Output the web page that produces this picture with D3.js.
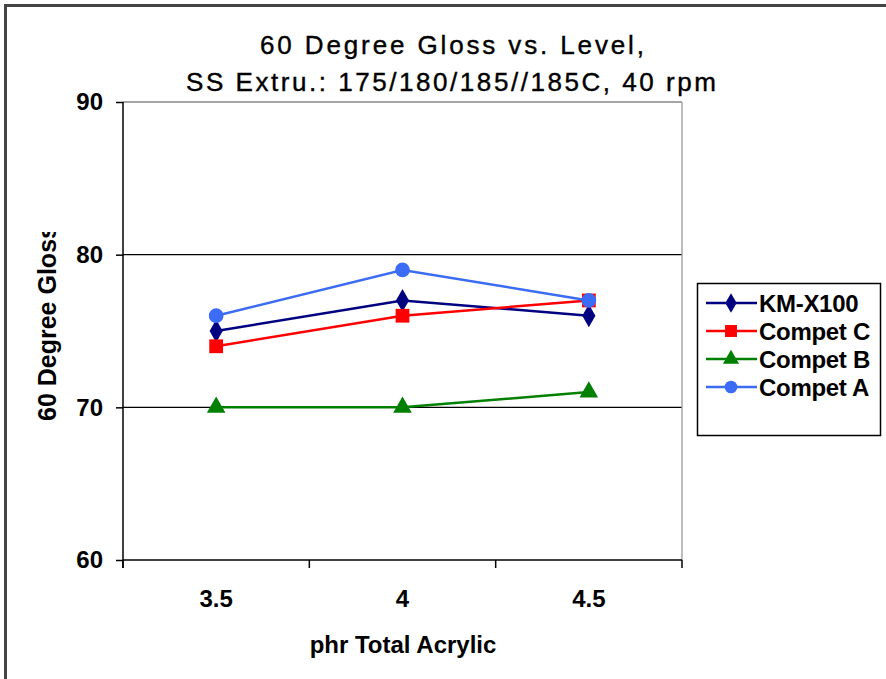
<!DOCTYPE html>
<html>
<head>
<meta charset="utf-8">
<script src="https://cdn.jsdelivr.net/npm/d3@7"></script>
<style>
html,body{margin:0;padding:0;background:#fff;}
svg{display:block;}
text{font-family:"Liberation Sans",Arial,sans-serif;fill:#000;}
</style>
</head>
<body>
<svg id="chart" width="886" height="679"></svg>
<script>
const categories = ["3.5", "4", "4.5"];
const seriesNames = ["KM-X100", "Compet C", "Compet B", "Compet A"];
const kmX100 = [75, 77, 76];
const competC = [74, 76, 77];
const competB = [70, 70, 71];
const competA = [76, 79, 77];
const yTicks = [60, 70, 80, 90];
const titleLines = ["60 Degree Gloss vs. Level,", "SS Extru.: 175/180/185//185C, 40 rpm"];
const xTitle = "phr Total Acrylic";
const yTitle = "60 Degree Gloss";

const series = [
  {name: seriesNames[0], values: kmX100, color: "#000080", shape: d3.symbolDiamond},
  {name: seriesNames[1], values: competC, color: "#FF0000", shape: d3.symbolSquare},
  {name: seriesNames[2], values: competB, color: "#008000", shape: d3.symbolTriangle},
  {name: seriesNames[3], values: competA, color: "#3C6CF5", shape: d3.symbolCircle}
];
const markerSize = {"KM-X100": 150, "Compet C": 190, "Compet B": 150, "Compet A": 170};

const svg = d3.select("#chart");
const margin = {left: 123, right: 682, top: 102, bottom: 560};

// outer frame
svg.append("rect").attr("x", 5.5).attr("y", 5.5).attr("width", 900).attr("height", 700)
  .attr("fill", "#fff").attr("stroke", "#444").attr("stroke-width", 3);

const x = d3.scaleBand().domain(categories).range([margin.left, margin.right]);
const y = d3.scaleLinear().domain([60, 90]).range([margin.bottom, margin.top]);

// gridlines
svg.append("g").selectAll("line").data(yTicks.filter(t => t > 60)).join("line")
  .attr("x1", margin.left).attr("x2", margin.right)
  .attr("y1", d => y(d)).attr("y2", d => y(d))
  .attr("stroke", d => d === 90 ? "#888" : "#000").attr("stroke-width", 1.3);
// plot area right border
svg.append("line").attr("x1", margin.right).attr("x2", margin.right)
  .attr("y1", margin.top).attr("y2", margin.bottom).attr("stroke", "#999").attr("stroke-width", 1.3);

// y axis
const yAxis = svg.append("g").attr("transform", `translate(${margin.left},0)`)
  .call(d3.axisLeft(y).tickValues(yTicks).tickSize(7).tickPadding(13).tickSizeOuter(0));
yAxis.select(".domain").attr("stroke", "#000").attr("stroke-width", 1.5)
  .attr("d", `M0,${margin.top}V${margin.bottom + 8}`);
yAxis.selectAll(".tick line").attr("stroke", "#000").attr("stroke-width", 1.5);
yAxis.selectAll(".tick text").attr("font-size", 24).attr("font-weight", "bold")
  .attr("font-family", "Liberation Sans, Arial, sans-serif").attr("fill", "#000");

// x axis
const xAxis = svg.append("g").attr("transform", `translate(0,${margin.bottom})`)
  .call(d3.axisBottom(x).tickSize(0).tickPadding(0));
xAxis.select(".domain").attr("stroke", "#000").attr("stroke-width", 1.5)
  .attr("d", `M${margin.left},0H${margin.right}`);
xAxis.selectAll(".tick text").attr("font-size", 24).attr("font-weight", "bold")
  .attr("font-family", "Liberation Sans, Arial, sans-serif").attr("fill", "#000")
  .attr("y", 47).attr("dy", 0);
// category boundary ticks
const bounds = categories.map(c => x(c)).concat([x(categories[categories.length - 1]) + x.bandwidth()]);
xAxis.append("g").selectAll("line").data(bounds).join("line")
  .attr("x1", d => d).attr("x2", d => d).attr("y1", 0).attr("y2", 8)
  .attr("stroke", "#000").attr("stroke-width", 1.5);

// series
const cx = c => x(c) + x.bandwidth() / 2;
series.forEach(s => {
  const g = svg.append("g");
  g.append("path").datum(s.values)
    .attr("fill", "none").attr("stroke", s.color).attr("stroke-width", 2.5)
    .attr("d", d3.line().x((d, i) => cx(categories[i])).y(d => y(d)));
  g.selectAll("path.m").data(s.values).join("path").attr("class", "m")
    .attr("transform", (d, i) => `translate(${cx(categories[i])},${y(d)})`)
    .attr("d", d3.symbol().type(s.shape).size(markerSize[s.name]))
    .attr("fill", s.color);
});

// title
svg.append("text").attr("x", 452).attr("y", 54).attr("text-anchor", "middle")
  .attr("font-size", 26).attr("textLength", 384).attr("lengthAdjust", "spacing")
  .attr("stroke", "#000").attr("stroke-width", 0.4)
  .text(titleLines[0]);
svg.append("text").attr("x", 451).attr("y", 91).attr("text-anchor", "middle")
  .attr("font-size", 26).attr("textLength", 530).attr("lengthAdjust", "spacing")
  .attr("stroke", "#000").attr("stroke-width", 0.4)
  .text(titleLines[1]);

// x title
svg.append("text").attr("x", 403).attr("y", 653).attr("text-anchor", "middle")
  .attr("font-size", 24).attr("font-weight", "bold").text(xTitle);

// y title (clipped at top like the original)
svg.append("clipPath").attr("id", "yclip").append("rect")
  .attr("x", 0).attr("y", 232).attr("width", 120).attr("height", 300);
svg.append("g").attr("clip-path", "url(#yclip)")
  .append("text")
  .attr("transform", "translate(56,421) rotate(-90)")
  .attr("font-size", 25).attr("font-weight", "bold").text(yTitle);

// legend
const lg = svg.append("g");
lg.append("rect").attr("x", 697.5).attr("y", 283.5).attr("width", 183).attr("height", 152)
  .attr("fill", "#fff").attr("stroke", "#000").attr("stroke-width", 1.5);
const legendY = d3.scalePoint().domain(seriesNames).range([303, 387]);
series.forEach(s => {
  const yy = legendY(s.name);
  lg.append("line").attr("x1", 706).attr("x2", 757).attr("y1", yy).attr("y2", yy)
    .attr("stroke", s.color).attr("stroke-width", 2.5);
  lg.append("path").attr("transform", `translate(731,${yy})`)
    .attr("d", d3.symbol().type(s.shape).size(markerSize[s.name] * 0.75)).attr("fill", s.color);
  lg.append("text").attr("x", 759).attr("y", yy + 8.5)
    .attr("font-size", 24).attr("font-weight", "bold").attr("letter-spacing", -0.3).text(s.name);
});
</script>
</body>
</html>
